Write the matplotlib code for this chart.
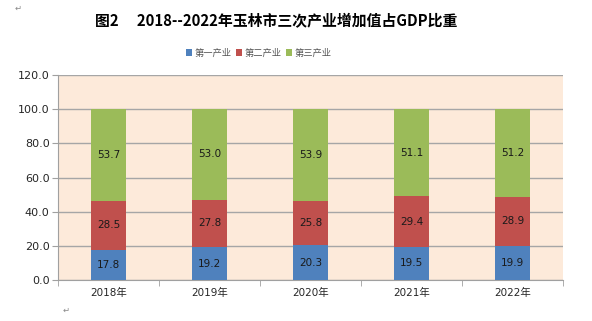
import numpy as np
import matplotlib.pyplot as plt

plt.rcParams['font.family'] = ['DejaVu Sans', 'Noto Sans CJK SC']

# data
years = ['2018年', '2019年', '2020年', '2021年', '2022年']
primary = [17.8, 19.2, 20.3, 19.5, 19.9]
secondary = [28.5, 27.8, 25.8, 29.4, 28.9]
tertiary = [53.7, 53.0, 53.9, 51.1, 51.2]
series_names = ['第一产业', '第二产业', '第三产业']
colors = ['#4F81BD', '#C0504D', '#9BBB59']

fig = plt.figure(figsize=(5.92, 3.21), dpi=100)
ax = fig.add_axes([0.098, 0.128, 0.853, 0.638])
ax.set_facecolor('#FDEADA')

x = np.arange(len(years))
bottom = np.zeros(len(years))
for vals, name, c in zip([primary, secondary, tertiary], series_names, colors):
    bars = ax.bar(x, vals, width=0.34, bottom=bottom, color=c, label=name, zorder=3)
    for b, v, b0 in zip(bars, vals, bottom):
        ax.text(b.get_x() + b.get_width() / 2, b0 + v / 2, f'{v:.1f}',
                ha='center', va='center', fontsize=7.5, color='#1a1a1a', zorder=4)
    bottom = bottom + np.array(vals)

ax.set_xlim(-0.5, len(years) - 0.5)
ax.set_ylim(0, 120)
ax.set_yticks(np.arange(0, 121, 20))
ax.set_yticklabels([f'{v:.1f}' for v in np.arange(0, 121, 20)], fontsize=8, color='#262626')
ax.set_xticks(x)
ax.set_xticklabels(years, fontsize=7.5, color='#262626')
ax.set_xticks(np.arange(-0.5, len(years)), minor=True)
ax.tick_params(axis='x', which='major', length=0, pad=6)
ax.tick_params(axis='x', which='minor', length=4, color='#a0a0a0')
ax.tick_params(axis='y', length=4, color='#a0a0a0', pad=2)
ax.grid(axis='y', color='#a6a6a6', linewidth=1, zorder=1)
for s in ['top', 'right']:
    ax.spines[s].set_visible(False)
for s in ['left', 'bottom']:
    ax.spines[s].set_color('#a0a0a0')

fig.text(0.466, 0.935, '图2\u3000 2018--2022年玉林市三次产业增加值占GDP比重',
         ha='center', va='center', fontsize=10.7, fontweight='bold',
         family=['Noto Sans CJK SC', 'DejaVu Sans'])
fig.legend(loc='center', bbox_to_anchor=(0.437, 0.835), ncol=3, frameon=False,
           handlelength=0.7, handleheight=0.7, handletextpad=0.3,
           columnspacing=0.4, labelcolor='#555555',
           prop={'family': ['Noto Sans CJK SC'], 'size': 6.7})
fig.text(0.025, 0.975, '\u21b5', fontsize=6, color='#888888', va='center')
fig.text(0.105, 0.035, '\u21b5', fontsize=6, color='#888888', va='center')

fig.savefig('out.png', dpi=100)
